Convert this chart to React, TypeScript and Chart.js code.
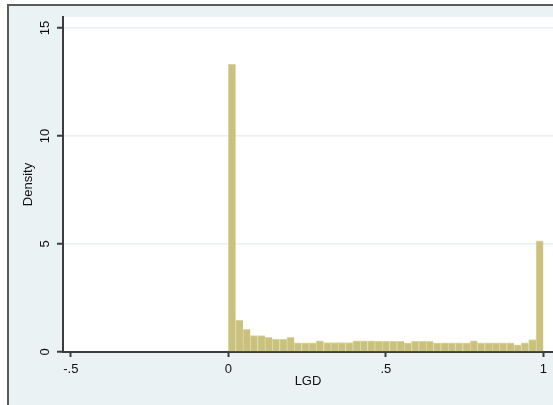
import React, { useEffect, useRef } from "react";
import { Chart, registerables } from "chart.js";

Chart.register(...registerables);

// Histogram of LGD: 43 equal bins from 0 to 1 (density scale)
const binStart = 0;
const binEnd = 1;
const densities = [
  13.33, 1.48, 1.05, 0.76, 0.76, 0.68, 0.6, 0.6, 0.68, 0.43,
  0.43, 0.43, 0.52, 0.44, 0.44, 0.44, 0.44, 0.52, 0.52, 0.52,
  0.51, 0.51, 0.51, 0.51, 0.43, 0.51, 0.51, 0.49, 0.43, 0.43,
  0.43, 0.43, 0.43, 0.52, 0.43, 0.43, 0.43, 0.43, 0.43, 0.33,
  0.43, 0.58, 5.15,
];
const xTickValues = [-0.5, 0, 0.5, 1];
const xTickLabels = ["-.5", "0", ".5", "1"];
const yTickValues = [0, 5, 10, 15];
const yTickLabels = ["0", "5", "10", "15"];
const xTitle = "LGD";
const yTitle = "Density";

const FONT = "'Liberation Sans', Arial, sans-serif";

export default function App() {
  const ref = useRef<HTMLCanvasElement | null>(null);

  useEffect(() => {
    if (!ref.current) return;
    const n = densities.length;
    const w = (binEnd - binStart) / n;
    const points = densities.map((d, i) => ({ x: binStart + (i + 0.5) * w, y: d }));

    const plotBg = {
      id: "plotBg",
      beforeDraw(chart: any) {
        const { ctx, chartArea } = chart;
        ctx.save();
        ctx.fillStyle = "#ffffff";
        ctx.fillRect(chartArea.left, chartArea.top, chartArea.right - chartArea.left, chartArea.bottom - chartArea.top);
        ctx.restore();
      },
    };

    const chart = new Chart(ref.current, {
      type: "bar",
      data: {
        datasets: [
          {
            data: points as any,
            backgroundColor: "rgb(201,193,124)",
            borderColor: "rgb(222,216,168)",
            borderWidth: { left: 1, top: 1, right: 0, bottom: 0 } as any,
            borderSkipped: false as any,
            barPercentage: 1,
            categoryPercentage: 1,
          },
        ],
      },
      plugins: [plotBg],
      options: {
        animation: false,
        responsive: false,
        devicePixelRatio: 1,
        layout: { padding: { top: 17, left: 0, right: 0, bottom: 0 } },
        plugins: { legend: { display: false }, tooltip: { enabled: false } },
        scales: {
          x: {
            type: "linear",
            offset: false,
            min: -0.5248,
            max: 1.0308,
            afterBuildTicks: (s: any) => {
              s.ticks = xTickValues.map((v) => ({ value: v }));
            },
            afterFit: (s: any) => {
              s.height = 53;
            },
            grid: {
              offset: false,
              drawOnChartArea: false,
              drawTicks: true,
              tickLength: 5,
              tickColor: "#3c3c3c",
              tickWidth: 2,
            },
            border: { display: true, color: "#3c3c3c", width: 2 },
            ticks: {
              padding: 5,
              color: "#111",
              font: { family: FONT, size: 13 },
              maxRotation: 0,
              minRotation: 0,
              autoSkip: false,
              callback: (v: any) => {
                const i = xTickValues.indexOf(Number(v));
                return i >= 0 ? xTickLabels[i] : "";
              },
            },
            title: {
              display: true,
              text: xTitle,
              color: "#111",
              font: { family: FONT, size: 13 },
              padding: { top: 0, bottom: 16 },
            },
          },
          y: {
            type: "linear",
            min: 0,
            max: 15.51,
            afterBuildTicks: (s: any) => {
              s.ticks = yTickValues.map((v) => ({ value: v }));
            },
            afterFit: (s: any) => {
              s.width = 63;
            },
            grid: {
              drawOnChartArea: true,
              drawTicks: true,
              tickLength: 6,
              tickColor: "#3c3c3c",
              tickWidth: 2,
              lineWidth: 1.5,
              color: (c: any) => (c.tick && c.tick.value === 0 ? "rgba(0,0,0,0)" : "rgb(232,240,243)"),
            },
            border: { display: true, color: "#3c3c3c", width: 2 },
            ticks: {
              padding: 4,
              color: "#111",
              font: { family: FONT, size: 13 },
              minRotation: 90,
              maxRotation: 90,
              crossAlign: "center",
              autoSkip: false,
              callback: (v: any) => {
                const i = yTickValues.indexOf(Number(v));
                return i >= 0 ? yTickLabels[i] : "";
              },
            },
            title: {
              display: true,
              text: yTitle,
              color: "#111",
              font: { family: FONT, size: 13 },
              padding: { top: 21, bottom: 0 },
            },
          },
        },
      } as any,
    });
    return () => chart.destroy();
  }, []);

  return (
    <div style={{ position: "absolute", left: 0, top: 0, width: 553, height: 405, background: "#ffffff", overflow: "hidden" }}>
      <div
        style={{
          position: "absolute",
          left: 7,
          top: 4,
          width: 600,
          height: 500,
          background: "rgb(234,242,244)",
          borderLeft: "2px solid #5a5a5a",
          borderTop: "2px solid #5a5a5a",
        }}
      />
      <canvas ref={ref} width={553} height={405} style={{ position: "absolute", left: 0, top: 0, width: 553, height: 405 }} />
    </div>
  );
}
